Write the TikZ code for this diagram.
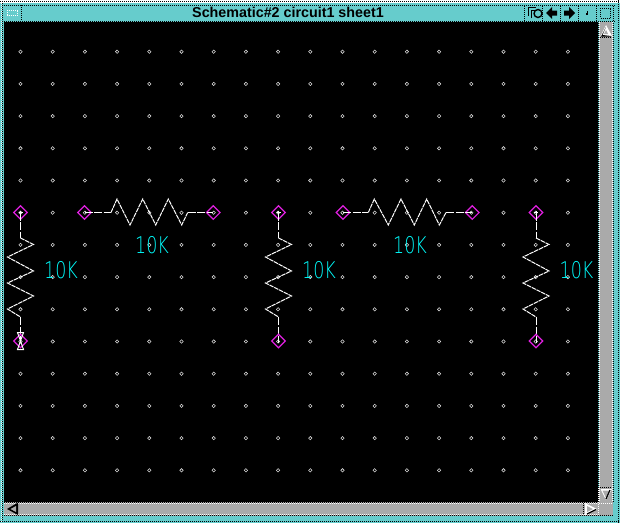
\documentclass[tikz,border=0pt]{standalone}
\usepackage{fontspec}
\usetikzlibrary{shapes.geometric}
\setmainfont{Liberation Sans}
\newfontfamily\valfont{DejaVu Sans ExtraLight}
\definecolor{winteal}{HTML}{66CCCC}
\definecolor{wingray}{HTML}{AAAAAA}
\definecolor{pinmag}{HTML}{E020E0}
\definecolor{valcyan}{HTML}{00FFFF}
\tikzset{
  griddot/.style={fill=black,draw=white!85!black,line width=.55pt,diamond,inner sep=0pt,minimum size=3.6pt},
  pin/.style={diamond,draw=pinmag,line width=1.15pt,inner sep=0pt,minimum size=14pt},
  pindot/.style={draw=white,line width=1pt},
  wire/.style={draw=white,line width=1pt,dash pattern=on 8pt off 1.5pt},
  zig/.style={draw=white,line width=1pt,line join=miter,dash pattern=on 4.5pt off .8pt},
  val/.style={text=valcyan,font=\valfont\fontsize{23}{23}\selectfont,inner sep=0pt,xscale=.76},
  dith/.style={line width=1pt,dash pattern=on 1pt off 1pt},
  titletext/.style={font=\bfseries\fontsize{14.3}{15}\selectfont,text=black,inner sep=0pt}
}
\begin{document}
\begin{tikzpicture}[x=1pt,y=-1pt]
\useasboundingbox (0,0) rectangle (620,523);
% window frame
\fill[winteal] (0,0) rectangle (620,523);
\fill[white] (0,0) rectangle (620,3);
\draw[dith,black] (0,1.5) -- (620,1.5);
\draw[dith,black] (2.5,3) -- (2.5,523);
\draw[dith,black] (0,521.5) -- (620,521.5);
\draw[dith,black] (618.5,0) -- (618.5,523);
\draw[dith,white] (1,3) -- (1,523);
% title bar
\draw[dith,black] (4,5.5) -- (615,5.5);
\draw[dith,black] (4,21) -- (615,21);
\draw[dith,black] (21,5) -- (21,21);
\draw[white,dash pattern=on 1pt off 1pt] (7.5,10) rectangle (17.5,15);
\node[titletext] (title) at (288,12.7) {Schematic\#2 circuit1 sheet1};
% title buttons
\foreach \bx in {524,542,560,578,596,613}{\draw[dith,black] (\bx,6) -- (\bx,21);}
\draw[black,line width=1pt] (528,16) -- (528,7) -- (536,7);
\draw[black,line width=1pt] (531,18) -- (531,10) -- (538,10);
\draw[black,line width=1.4pt,fill=winteal] (538,13.5) circle (4);
\fill[black] (546,13) -- (552,7) -- (552,10.5) -- (557,10.5) -- (557,15.5) -- (552,15.5) -- (552,19) -- cycle;
\fill[black] (575,13) -- (569,7) -- (569,10.5) -- (564,10.5) -- (564,15.5) -- (569,15.5) -- (569,19) -- cycle;
\fill[black] (586.5,11) rectangle (588,13);
\fill[black] (586,13) rectangle (587.5,15);
\draw[black,line width=1pt,dash pattern=on 1pt off 1pt] (600.5,8) rectangle (610.5,18);
% canvas
\fill[black] (4,22) rectangle (598,502);
% vertical scrollbar
\fill[wingray] (599,22) rectangle (613,502);
\draw[dith,white] (599.5,22) -- (599.5,502);
\draw[dith,black] (598.5,23) -- (598.5,502);
\draw[dith,white] (612.5,22) -- (612.5,502);
\draw[dith,black] (613.5,23) -- (613.5,502);
\fill[white] (606,25) -- (600.5,36) -- (612,36) -- cycle;
\fill[black] (606,27) -- (602.5,35) -- (611,36) -- (611,36.5) -- (601,36.5) -- cycle;
\fill[wingray] (606,30) -- (604,34) -- (608,34) -- cycle;
\draw[dith,black] (600,37.5) -- (612,37.5);
\draw[dith,black] (600,487.5) -- (612,487.5);
\fill[white] (600.5,489) -- (612,489) -- (606,500) -- cycle;
\fill[wingray] (602.5,490.5) -- (610,490.5) -- (606,498) -- cycle;
\draw[black,line width=1.2pt] (610,490) -- (606,499);
% horizontal scrollbar
\fill[wingray] (4,502) rectangle (613,516);
\draw[dith,white] (4,503.5) -- (598,503.5);
\draw[dith,black] (4,502.5) -- (598,502.5);
\draw[dith,white] (4,514.5) -- (598,514.5);
\draw[dith,black] (4,515.5) -- (613,515.5);
\fill[black] (7,509) -- (18,502.5) -- (18,515) -- cycle;
\fill[wingray] (10.5,509) -- (16,506) -- (16,512) -- cycle;
\fill[white] (585,503) -- (597,509) -- (585,515) -- cycle;
\fill[wingray] (587,506) -- (593,509) -- (587,512) -- cycle;
\draw[black,line width=1.2pt] (587,514) -- (596,509.5);
\draw[dith,black] (583.5,503) -- (583.5,515);
\draw[dith,white] (598.5,488) -- (598.5,515);
\draw[dith,white] (599,503.5) -- (613,503.5);
% grid
\foreach \i in {0,...,17}{\foreach \j in {0,...,13}{
  \node[griddot] (g\i-\j) at ({20.5+32.2*\i},{51.7+32.2*\j}) {};
}}
% resistors
\foreach \nm/\ox in {a/0,b/258,c/515.5}{
  \begin{scope}[xshift=\ox pt]
    \node[pin] (\nm top) at (20.5,212.5) {};
    \coordinate (\nm in) at (20.5,238);
    \coordinate (\nm out) at (20.5,317);
    \coordinate (\nm end) at (20.5,341);
    \draw[pindot] (\nm top.center) ++(0,-2) -- ++(0,4);
    \draw[pindot] (\nm top.center) ++(-2,0) -- ++(4,0);
    \draw[wire] (\nm top.center) -- (\nm in);
    \draw[zig] (\nm in) -- (33.5,244.5) -- (7.5,257) -- (33.5,271) -- (7.5,283) -- (33.5,296) -- (7.5,309) -- (\nm out);
    \draw[wire] (\nm out) -- (\nm end);
  \end{scope}
}
\node[val] (va) at (61,270) {10K};
\node[val] (vb) at (319,270) {10K};
\node[val] (vc) at (576.5,270) {10K};
% bottom pins
\node[pin] (ap) at (20.5,341) {};
\draw[white,line width=1pt] (17.5,332.5) -- (23.5,332.5) -- (17.5,349.5) -- (23.5,349.5) -- cycle;
\node[pin] (bp) at (278.5,341) {};
\node[pin] (cp) at (536,341) {};
\draw[pindot] (bp.center) ++(0,-2) -- ++(0,4);
\draw[pindot] (cp.center) ++(0,-2) -- ++(0,4);
% horizontal resistors
\node[pin] (dl) at (84.5,212.5) {};
\node[pin] (dr) at (213.3,212.5) {};
\draw[wire] (dl.center) -- (111,212.5);
\draw[zig] (111,212.5) -- (117,199) -- (130,225) -- (142.7,199) -- (155.7,225) -- (168.3,199) -- (181.7,225) -- (187.7,212.5);
\draw[wire] (187.7,212.5) -- (dr.center);
\node[pin] (el) at (343,212.5) {};
\node[pin] (er) at (472.3,212.5) {};
\draw[wire] (el.center) -- (368.3,212.5);
\draw[zig] (368.3,212.5) -- (374.3,199) -- (388.3,225) -- (401,199) -- (414.3,225) -- (426.7,199) -- (439.3,225) -- (446,212.5);
\draw[wire] (446,212.5) -- (er.center);
\node[val] (vd) at (152,245.5) {10K};
\node[val] (ve) at (410,245.5) {10K};
\end{tikzpicture}
\end{document}
